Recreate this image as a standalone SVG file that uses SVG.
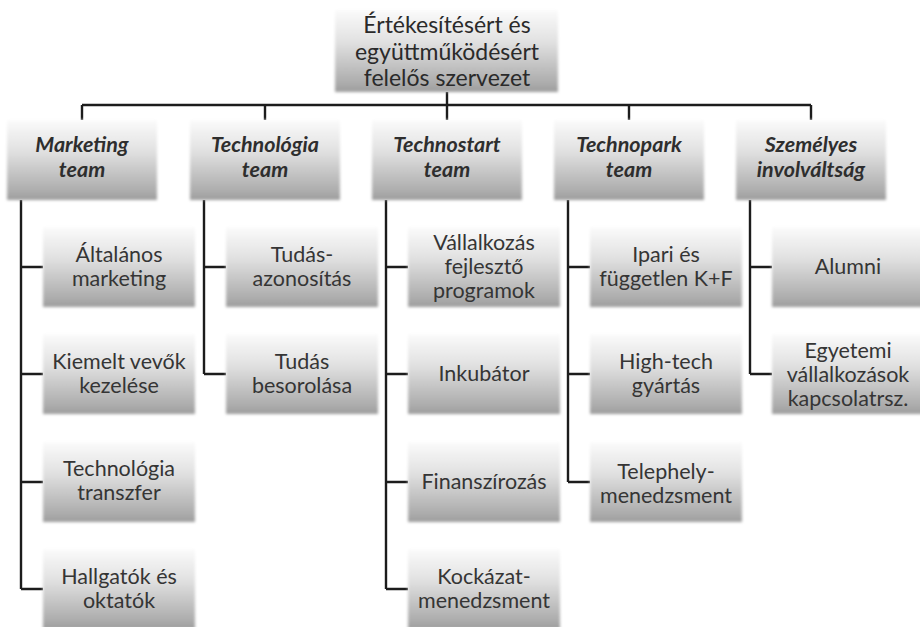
<svg xmlns="http://www.w3.org/2000/svg" width="920" height="627" viewBox="0 0 920 627">
<defs>
<linearGradient id="g" x1="0" y1="0" x2="0" y2="1">
<stop offset="0" stop-color="#fbfbfb"/>
<stop offset="0.4" stop-color="#e0e0e0"/>
<stop offset="0.9" stop-color="#ababab"/>
<stop offset="1" stop-color="#9c9c9c"/>
</linearGradient>
<filter id="soft" x="-5%" y="-5%" width="110%" height="110%">
<feGaussianBlur stdDeviation="1.6"/>
</filter>
</defs>
<style>
.box{fill:url(#g);filter:url(#soft)}
.t{font-family:Lato,"Liberation Sans",sans-serif;font-size:21.5px;fill:#353535;text-anchor:middle}
.h{font-family:Lato,"Liberation Sans",sans-serif;font-size:21.5px;font-weight:bold;font-style:italic;fill:#2e2e2e;text-anchor:middle}
.r{font-family:Lato,"Liberation Sans",sans-serif;font-size:23px;fill:#2a2a2a;text-anchor:middle}
.c{fill:none;stroke:#1c1c1c;stroke-width:2.4}
</style>
<rect width="920" height="627" fill="#ffffff"/>

<g id="connectors" class="c">
<path d="M447 92 V120"/>
<path d="M82 105 H811"/>
<path d="M82 105 V120 M265 105 V120 M629 105 V120 M811 105 V120"/>
<path d="M21 200 V589 M21 267 H43 M21 374 H43 M21 482 H43 M21 589 H43"/>
<path d="M204 200 V374 M204 267 H226 M204 374 H226"/>
<path d="M386 200 V589 M386 267 H408 M386 374 H408 M386 482 H408 M386 589 H408"/>
<path d="M568 200 V482 M568 267 H590 M568 374 H590 M568 482 H590"/>
<path d="M750 200 V374 M750 267 H772 M750 374 H772"/>
</g>

<g id="root">
<rect class="box" x="335" y="10" width="223" height="82"/>
<text class="r" x="447" y="33">Értékesítésért és</text>
<text class="r" x="447" y="60">együttműködésért</text>
<text class="r" x="447" y="86">felelős szervezet</text>
</g>

<g id="marketing">
<rect class="box" x="7" y="120" width="150" height="80"/>
<text class="h" x="82" y="152">Marketing</text>
<text class="h" x="82" y="177">team</text>
</g>
<g id="technologia">
<rect class="box" x="190" y="120" width="150" height="80"/>
<text class="h" x="265" y="152">Technológia</text>
<text class="h" x="265" y="177">team</text>
</g>
<g id="technostart">
<rect class="box" x="372" y="120" width="150" height="80"/>
<text class="h" x="447" y="152">Technostart</text>
<text class="h" x="447" y="177">team</text>
</g>
<g id="technopark">
<rect class="box" x="554" y="120" width="150" height="80"/>
<text class="h" x="629" y="152">Technopark</text>
<text class="h" x="629" y="177">team</text>
</g>
<g id="szemelyes">
<rect class="box" x="736" y="120" width="150" height="80"/>
<text class="h" x="811" y="152">Személyes</text>
<text class="h" x="811" y="177">involváltság</text>
</g>

<g id="m1">
<rect class="box" x="43" y="227" width="152" height="80"/>
<text class="t" x="119" y="262">Általános</text>
<text class="t" x="119" y="286">marketing</text>
</g>
<g id="m2">
<rect class="box" x="43" y="334" width="152" height="80"/>
<text class="t" x="119" y="369">Kiemelt vevők</text>
<text class="t" x="119" y="393">kezelése</text>
</g>
<g id="m3">
<rect class="box" x="43" y="442" width="152" height="80"/>
<text class="t" x="119" y="476">Technológia</text>
<text class="t" x="119" y="500">transzfer</text>
</g>
<g id="m4">
<rect class="box" x="43" y="549" width="152" height="80"/>
<text class="t" x="119" y="584">Hallgatók és</text>
<text class="t" x="119" y="608">oktatók</text>
</g>

<g id="t1">
<rect class="box" x="226" y="227" width="152" height="80"/>
<text class="t" x="302" y="262">Tudás-</text>
<text class="t" x="302" y="286">azonosítás</text>
</g>
<g id="t2">
<rect class="box" x="226" y="334" width="152" height="80"/>
<text class="t" x="302" y="369">Tudás</text>
<text class="t" x="302" y="393">besorolása</text>
</g>

<g id="s1">
<rect class="box" x="408" y="227" width="152" height="80"/>
<text class="t" x="484" y="250">Vállalkozás</text>
<text class="t" x="484" y="274">fejlesztő</text>
<text class="t" x="484" y="298">programok</text>
</g>
<g id="s2">
<rect class="box" x="408" y="334" width="152" height="80"/>
<text class="t" x="484" y="381">Inkubátor</text>
</g>
<g id="s3">
<rect class="box" x="408" y="442" width="152" height="80"/>
<text class="t" x="484" y="489">Finanszírozás</text>
</g>
<g id="s4">
<rect class="box" x="408" y="549" width="152" height="80"/>
<text class="t" x="484" y="584">Kockázat-</text>
<text class="t" x="484" y="608">menedzsment</text>
</g>

<g id="p1">
<rect class="box" x="590" y="227" width="152" height="80"/>
<text class="t" x="666" y="262">Ipari és</text>
<text class="t" x="666" y="286">független K+F</text>
</g>
<g id="p2">
<rect class="box" x="590" y="334" width="152" height="80"/>
<text class="t" x="666" y="369">High-tech</text>
<text class="t" x="666" y="393">gyártás</text>
</g>
<g id="p3">
<rect class="box" x="590" y="442" width="152" height="80"/>
<text class="t" x="666" y="479">Telephely-</text>
<text class="t" x="666" y="503">menedzsment</text>
</g>

<g id="z1">
<rect class="box" x="772" y="227" width="152" height="80"/>
<text class="t" x="848" y="274">Alumni</text>
</g>
<g id="z2">
<rect class="box" x="772" y="334" width="152" height="80"/>
<text class="t" x="848" y="358">Egyetemi</text>
<text class="t" x="848" y="382">vállalkozások</text>
<text class="t" x="848" y="406">kapcsolatrsz.</text>
</g>
</svg>
